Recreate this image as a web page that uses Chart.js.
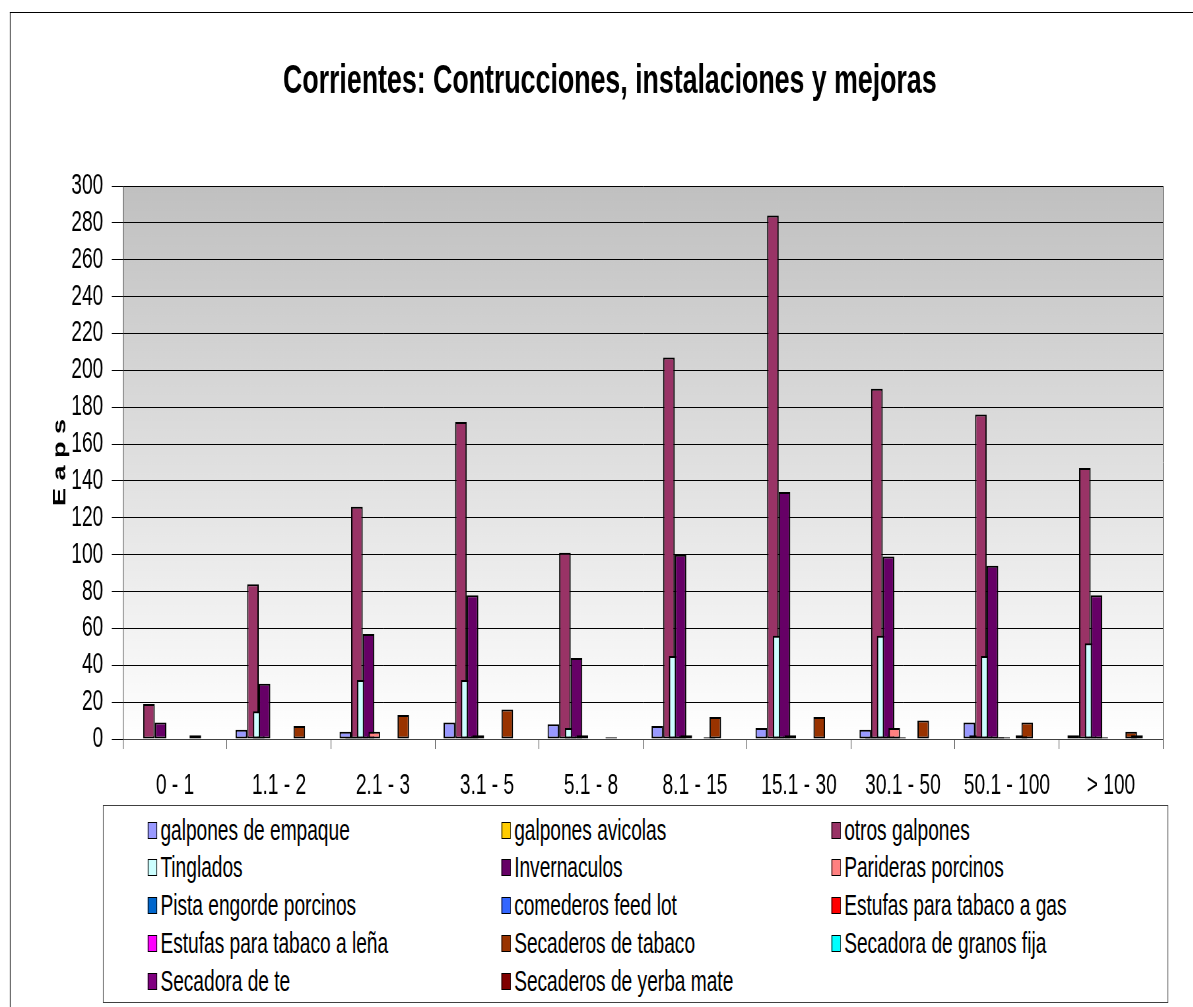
<!DOCTYPE html>
<html>
<head>
<meta charset="utf-8">
<script src="https://cdn.jsdelivr.net/npm/chart.js@4.4.1/dist/chart.umd.min.js"></script>
<style>
  html, body { margin: 0; padding: 0; background: #ffffff; overflow: hidden; }
  /* Everything is laid out wide and squeezed, like the narrow text of the original. */
  #page {
    position: absolute; left: 0; top: 0;
    width: 1808px; height: 1007px;
    transform: scaleX(0.66); transform-origin: 0 0;
    font-family: "Liberation Sans", Arial, sans-serif;
  }
  #frame {
    position: absolute; left: 15px; top: 12px; width: 1900px; height: 1100px;
    border-left: 1px solid #000; border-top: 1px solid #000;
  }
  #chart { position: absolute; left: 0; top: 0; }
  #legend {
    position: absolute; left: 156px; top: 805px; width: 1612px; height: 196px;
    border: 1px solid #404040; background: #ffffff;
  }
  .item { position: absolute; height: 36px; display: flex; align-items: center; font-size: 29px; color: #000; white-space: nowrap; }
  .key { width: 12px; height: 15px; border: 1px solid #000; margin-right: 5px; }
</style>
</head>
<body>
<div id="page">
  <div id="frame"></div>
  <canvas id="chart" width="1808" height="800"></canvas>
  <div id="legend"></div>
</div>
<script>
/* Categories (hectare ranges) and one array per series. */
const categories = ["0 - 1", "1.1 - 2", "2.1 - 3", "3.1 - 5", "5.1 - 8", "8.1 - 15", "15.1 - 30", "30.1 - 50", "50.1 - 100", "> 100"]

const galponesEmpaque = [0, 5, 4, 9, 8, 7, 6, 5, 9, 2]
const galponesAvicolas = [0, 0, 1, 0, 0, 0, 0, 1, 2, 0]
const otrosGalpones = [19, 84, 126, 172, 101, 207, 284, 190, 176, 147]
const tinglados = [0, 15, 32, 32, 6, 45, 56, 56, 45, 52]
const invernaculos = [9, 30, 57, 78, 44, 100, 134, 99, 94, 78]
const paridERASPorcinos = [0, 0, 4, 2, 2, 2, 2, 6, 1, 1]
const pistaEngorde = [0, 0, 0, 0, 0, 0, 0, 1, 1, 0]
const comederosFeedLot = [0, 0, 0, 0, 0, 0, 0, 0, 0, 0]
const estufasGas = [0, 0, 0, 0, 0, 0, 0, 0, 0, 0]
const estufasLena = [0, 0, 0, 0, 0, 1, 0, 0, 2, 0]
const secaderosTabaco = [2, 7, 13, 16, 1, 12, 12, 10, 9, 4]
const secadoraGranos = [0, 0, 0, 0, 0, 0, 0, 0, 0, 2]
const secadoraTe = [0, 0, 0, 0, 0, 0, 0, 0, 0, 0]
const secaderosYerba = [0, 0, 0, 0, 0, 0, 0, 0, 0, 0]

const yTicks = { min: 0, max: 300, step: 20 }

/* Series names, data and colours. */
const series = [
  { label: "galpones de empaque", data: galponesEmpaque, color: "#9999ff" },
  { label: "galpones avicolas", data: galponesAvicolas, color: "#ffcc00" },
  { label: "otros galpones", data: otrosGalpones, color: "#993366" },
  { label: "Tinglados", data: tinglados, color: "#ccffff" },
  { label: "Invernaculos", data: invernaculos, color: "#660066" },
  { label: "Parideras porcinos", data: paridERASPorcinos, color: "#ff8080" },
  { label: "Pista engorde porcinos", data: pistaEngorde, color: "#0066cc" },
  { label: "comederos feed lot", data: comederosFeedLot, color: "#3366ff" },
  { label: "Estufas para tabaco a gas", data: estufasGas, color: "#ff0000" },
  { label: "Estufas para tabaco a leña", data: estufasLena, color: "#ff00ff" },
  { label: "Secaderos de tabaco", data: secaderosTabaco, color: "#993300" },
  { label: "Secadora de granos fija", data: secadoraGranos, color: "#00ffff" },
  { label: "Secadora de te", data: secadoraTe, color: "#800080" },
  { label: "Secaderos de yerba mate", data: secaderosYerba, color: "#800000" }
]

Chart.defaults.font.family = "'Liberation Sans', Arial, sans-serif"
Chart.defaults.color = "#000000"

/* Grey to white fill behind the bars, and the right border of the plot. */
const plotBackground = {
  id: "plotBackground",
  beforeDraw(chart) {
    const { ctx, chartArea: a } = chart
    const g = ctx.createLinearGradient(0, a.top, 0, a.bottom)
    g.addColorStop(0, "#c0c0c0")
    g.addColorStop(1, "#ffffff")
    ctx.save()
    ctx.fillStyle = g
    ctx.fillRect(a.left, a.top, a.right - a.left, a.bottom - a.top)
    ctx.strokeStyle = "#404040"
    ctx.lineWidth = 1
    ctx.beginPath()
    ctx.moveTo(Math.round(a.right) + 0.5, a.top)
    ctx.lineTo(Math.round(a.right) + 0.5, a.bottom)
    ctx.stroke()
    ctx.restore()
  }
}

/* Excel puts later series on top of the earlier ones where bars overlap. */
const drawInOrder = {
  id: "drawInOrder",
  beforeDatasetsDraw(chart) {
    chart.getSortedVisibleDatasetMetas().forEach(meta => meta.controller.draw())
    return false
  }
}

const ctx = document.getElementById("chart").getContext("2d")
const chart = new Chart(ctx, {
  type: "bar",
  data: {
    labels: categories,
    datasets: series.map(s => ({
      label: s.label,
      data: s.data,
      backgroundColor: s.color,
      borderColor: "#000000",
      borderWidth: 2,
      borderSkipped: false,
      categoryPercentage: 0.78,
      barPercentage: 2.0
    }))
  },
  options: {
    responsive: false,
    animation: false,
    devicePixelRatio: 1,
    layout: { padding: { top: 0, left: 86, right: 46, bottom: 0 } },
    scales: {
      x: {
        offset: true,
        grid: {
          offset: true,
          drawOnChartArea: false,
          drawTicks: true,
          tickLength: 10,
          color: "#404040"
        },
        border: { color: "#404040" },
        ticks: { font: { size: 29 }, padding: 20, maxRotation: 0, autoSkip: false },
        afterFit: scale => { scale.height = 61 }
      },
      y: {
        min: yTicks.min,
        max: yTicks.max,
        grid: { color: "#000000", tickLength: 17 },
        border: { color: "#404040" },
        ticks: { stepSize: yTicks.step, font: { size: 29 }, padding: 13, autoSkip: false },
        title: {
          display: true,
          text: "E a p s",
          font: { size: 27, weight: "bold" },
          padding: { top: -11, bottom: 0 }
        },
        afterFit: scale => { scale.width = 100.4 }
      }
    },
    plugins: {
      title: {
        display: true,
        text: "Corrientes: Contrucciones, instalaciones y mejoras",
        font: { size: 40.5, weight: "bold" },
        padding: { top: 58, bottom: 79.4 }
      },
      legend: { display: false },
      tooltip: { enabled: false }
    }
  },
  plugins: [plotBackground, drawInOrder]
})

/* Legend box below the chart, three columns like the original. */
const legendBox = document.getElementById("legend")
const columnLeft = [67, 603, 1103]
series.forEach((s, i) => {
  const item = document.createElement("div")
  item.className = "item"
  item.style.left = columnLeft[i % 3] + "px"
  item.style.top = (6 + Math.floor(i / 3) * 37.75) + "px"
  const key = document.createElement("span")
  key.className = "key"
  key.style.background = s.color
  const text = document.createElement("span")
  text.innerText = s.label
  item.appendChild(key)
  item.appendChild(text)
  legendBox.appendChild(item)
})
</script>
</body>
</html>
